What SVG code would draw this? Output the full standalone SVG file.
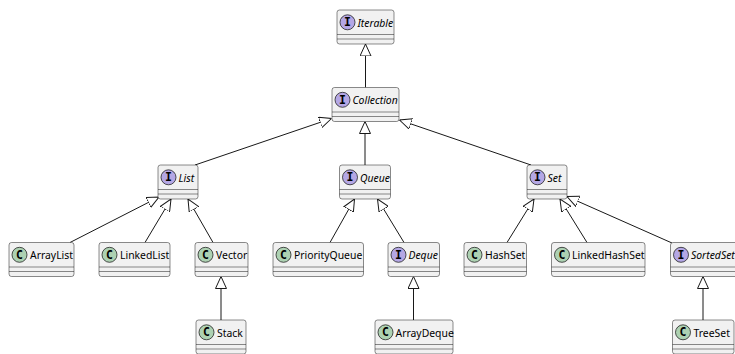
<svg xmlns="http://www.w3.org/2000/svg" width="735" height="354" viewBox="0 0 735 354">
<style>
.box{fill:#F1F1F1;stroke:#181818;stroke-width:0.5}
.sep{stroke:#181818;stroke-width:0.5}
.ci{fill:#B4A7E5;stroke:#181818;stroke-width:0.75}
.cc{fill:#ADD1B2;stroke:#181818;stroke-width:0.75}
.sp{font-family:"DejaVu Sans Mono",monospace;font-weight:bold;font-size:11.5px;fill:#000;text-anchor:middle}
.lb{font-family:"Noto Sans",sans-serif;font-size:10.4px;fill:#000}
.it{font-style:italic}
.ed{stroke:#181818;stroke-width:1;fill:none;marker-end:url(#ext)}
</style>
<defs>
<marker id="ext" viewBox="0 0 12 12" refX="12" refY="6" markerWidth="12" markerHeight="12" markerUnits="userSpaceOnUse" orient="auto">
<path d="M0,0.5 L12,6 L0,11.5 Z" fill="#FFFFFF" stroke="#181818" stroke-width="1"/>
</marker>
</defs>
<rect width="735" height="354" fill="#FFFFFF"/>
<g id="connectors">
<line class="ed" x1="365.5" y1="87.5" x2="365.5" y2="44"/>
<line class="ed" x1="195" y1="165" x2="331.5" y2="118.5"/>
<line class="ed" x1="365" y1="165" x2="365" y2="121.5"/>
<line class="ed" x1="531" y1="165" x2="399.5" y2="120"/>
<line class="ed" x1="70" y1="242.5" x2="159" y2="197"/>
<line class="ed" x1="145" y1="242.5" x2="171" y2="199"/>
<line class="ed" x1="213" y1="242.5" x2="188" y2="199"/>
<line class="ed" x1="221" y1="320" x2="221" y2="276.5"/>
<line class="ed" x1="330" y1="242.5" x2="354.5" y2="199"/>
<line class="ed" x1="404" y1="242.5" x2="377.5" y2="199"/>
<line class="ed" x1="413.5" y1="320" x2="413.5" y2="276.5"/>
<line class="ed" x1="507" y1="242.5" x2="534" y2="199"/>
<line class="ed" x1="587" y1="242.5" x2="560" y2="199"/>
<line class="ed" x1="672" y1="243" x2="567" y2="196.5"/>
<line class="ed" x1="703" y1="320" x2="703" y2="276.5"/>
</g>
<g id="Iterable"><rect class="box" x="337" y="10" width="57" height="34" rx="2.5"/><line class="sep" x1="337" y1="34.5" x2="394" y2="34.5"/><line class="sep" x1="337" y1="39" x2="394" y2="39"/><circle class="ci" cx="347.5" cy="22.3" r="7.5"/><text class="sp" x="347.5" y="26.4">I</text><text class="lb it" x="357.5" y="26.6">Iterable</text></g>
<g id="Collection"><rect class="box" x="332" y="87.5" width="67" height="34" rx="2.5"/><line class="sep" x1="332" y1="112" x2="399" y2="112"/><line class="sep" x1="332" y1="116.5" x2="399" y2="116.5"/><circle class="ci" cx="342.5" cy="99.8" r="7.5"/><text class="sp" x="342.5" y="103.9">I</text><text class="lb it" x="352.5" y="104.1">Collection</text></g>
<g id="List"><rect class="box" x="158" y="165" width="40" height="34" rx="2.5"/><line class="sep" x1="158" y1="189.5" x2="198" y2="189.5"/><line class="sep" x1="158" y1="194" x2="198" y2="194"/><circle class="ci" cx="168.5" cy="177.3" r="7.5"/><text class="sp" x="168.5" y="181.4">I</text><text class="lb it" x="178.5" y="181.6">List</text></g>
<g id="Queue"><rect class="box" x="339.5" y="165" width="51" height="34" rx="2.5"/><line class="sep" x1="339.5" y1="189.5" x2="390.5" y2="189.5"/><line class="sep" x1="339.5" y1="194" x2="390.5" y2="194"/><circle class="ci" cx="350" cy="177.3" r="7.5"/><text class="sp" x="350" y="181.4">I</text><text class="lb it" x="360" y="181.6">Queue</text></g>
<g id="Set"><rect class="box" x="527" y="165" width="40" height="34" rx="2.5"/><line class="sep" x1="527" y1="189.5" x2="567" y2="189.5"/><line class="sep" x1="527" y1="194" x2="567" y2="194"/><circle class="ci" cx="537.5" cy="177.3" r="7.5"/><text class="sp" x="537.5" y="181.4">I</text><text class="lb it" x="547.5" y="181.6">Set</text></g>
<g id="ArrayList"><rect class="box" x="9" y="242.5" width="65" height="34" rx="2.5"/><line class="sep" x1="9" y1="267" x2="74" y2="267"/><line class="sep" x1="9" y1="271.5" x2="74" y2="271.5"/><circle class="cc" cx="19.5" cy="254.8" r="7.5"/><text class="sp" x="19.5" y="258.9">C</text><text class="lb" x="30" y="259.1">ArrayList</text></g>
<g id="LinkedList"><rect class="box" x="99" y="242.5" width="71" height="34" rx="2.5"/><line class="sep" x1="99" y1="267" x2="170" y2="267"/><line class="sep" x1="99" y1="271.5" x2="170" y2="271.5"/><circle class="cc" cx="109.5" cy="254.8" r="7.5"/><text class="sp" x="109.5" y="258.9">C</text><text class="lb" x="120" y="259.1">LinkedList</text></g>
<g id="Vector"><rect class="box" x="195" y="242.5" width="53" height="34" rx="2.5"/><line class="sep" x1="195" y1="267" x2="248" y2="267"/><line class="sep" x1="195" y1="271.5" x2="248" y2="271.5"/><circle class="cc" cx="205.5" cy="254.8" r="7.5"/><text class="sp" x="205.5" y="258.9">C</text><text class="lb" x="216" y="259.1">Vector</text></g>
<g id="PriorityQueue"><rect class="box" x="273" y="242.5" width="90.5" height="34" rx="2.5"/><line class="sep" x1="273" y1="267" x2="363.5" y2="267"/><line class="sep" x1="273" y1="271.5" x2="363.5" y2="271.5"/><circle class="cc" cx="283.5" cy="254.8" r="7.5"/><text class="sp" x="283.5" y="258.9">C</text><text class="lb" x="294" y="259.1">PriorityQueue</text></g>
<g id="Deque"><rect class="box" x="388" y="242.5" width="51.5" height="34" rx="2.5"/><line class="sep" x1="388" y1="267" x2="439.5" y2="267"/><line class="sep" x1="388" y1="271.5" x2="439.5" y2="271.5"/><circle class="ci" cx="398.5" cy="254.8" r="7.5"/><text class="sp" x="398.5" y="258.9">I</text><text class="lb it" x="408.5" y="259.1">Deque</text></g>
<g id="HashSet"><rect class="box" x="464" y="242.5" width="62.5" height="34" rx="2.5"/><line class="sep" x1="464" y1="267" x2="526.5" y2="267"/><line class="sep" x1="464" y1="271.5" x2="526.5" y2="271.5"/><circle class="cc" cx="474.5" cy="254.8" r="7.5"/><text class="sp" x="474.5" y="258.9">C</text><text class="lb" x="485" y="259.1">HashSet</text></g>
<g id="LinkedHashSet"><rect class="box" x="551.5" y="242.5" width="93.5" height="34" rx="2.5"/><line class="sep" x1="551.5" y1="267" x2="645" y2="267"/><line class="sep" x1="551.5" y1="271.5" x2="645" y2="271.5"/><circle class="cc" cx="562" cy="254.8" r="7.5"/><text class="sp" x="562" y="258.9">C</text><text class="lb" x="572" y="259.1">LinkedHashSet</text></g>
<g id="SortedSet"><rect class="box" x="670.5" y="242.5" width="72" height="34" rx="2.5"/><line class="sep" x1="670.5" y1="267" x2="742.5" y2="267"/><line class="sep" x1="670.5" y1="271.5" x2="742.5" y2="271.5"/><circle class="ci" cx="681" cy="254.8" r="7.5"/><text class="sp" x="681" y="258.9">I</text><text class="lb it" x="691" y="259.1">SortedSet</text></g>
<g id="Stack"><rect class="box" x="196" y="320" width="50" height="34" rx="2.5"/><line class="sep" x1="196" y1="344.5" x2="246" y2="344.5"/><line class="sep" x1="196" y1="349" x2="246" y2="349"/><circle class="cc" cx="206.5" cy="332.3" r="7.5"/><text class="sp" x="206.5" y="336.4">C</text><text class="lb" x="217" y="336.6">Stack</text></g>
<g id="ArrayDeque"><rect class="box" x="375" y="320" width="78" height="34" rx="2.5"/><line class="sep" x1="375" y1="344.5" x2="453" y2="344.5"/><line class="sep" x1="375" y1="349" x2="453" y2="349"/><circle class="cc" cx="385.5" cy="332.3" r="7.5"/><text class="sp" x="385.5" y="336.4">C</text><text class="lb" x="395.5" y="336.6">ArrayDeque</text></g>
<g id="TreeSet"><rect class="box" x="672.5" y="320" width="61.5" height="34" rx="2.5"/><line class="sep" x1="672.5" y1="344.5" x2="734" y2="344.5"/><line class="sep" x1="672.5" y1="349" x2="734" y2="349"/><circle class="cc" cx="683" cy="332.3" r="7.5"/><text class="sp" x="683" y="336.4">C</text><text class="lb" x="693.5" y="336.6">TreeSet</text></g>
</svg>
